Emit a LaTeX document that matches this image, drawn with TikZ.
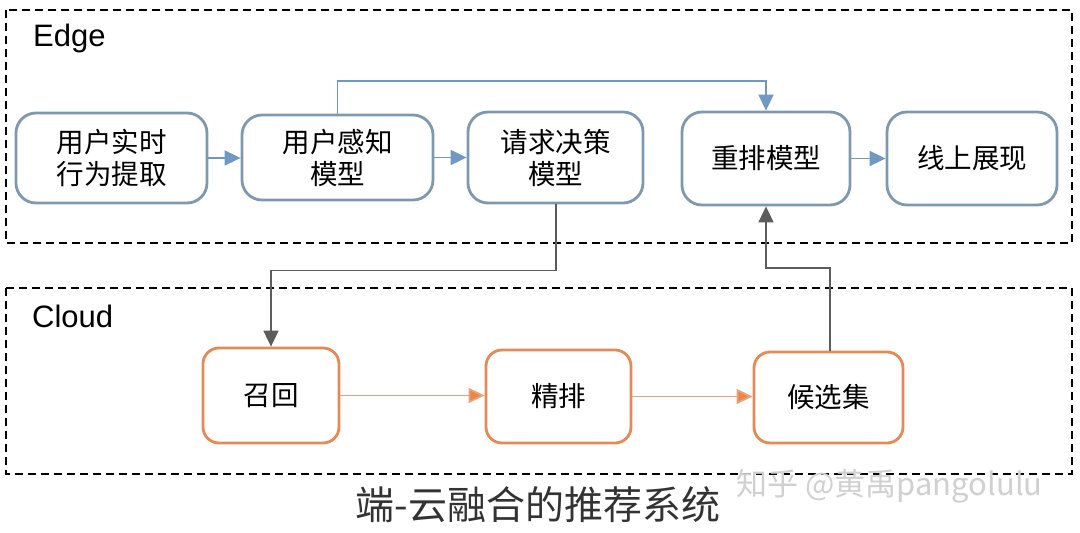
\documentclass[tikz,border=0pt]{standalone}
\usepackage{fontspec}
\setmainfont{Liberation Sans}
\newfontfamily\cjk{Noto Sans CJK SC}
\usetikzlibrary{arrows.meta}
\definecolor{edgeborder}{HTML}{7E99AE}
\definecolor{edgearrow}{HTML}{6F98C2}
\definecolor{cloudborder}{HTML}{E58A55}
\definecolor{cloudline}{HTML}{E8A37E}
\definecolor{cloudhead}{HTML}{EB8646}
\definecolor{linkgray}{HTML}{5C5C5C}
\definecolor{captiongray}{HTML}{333333}
\definecolor{wmgray}{HTML}{D0D0D0}
\tikzset{
  edgebox/.style={draw=edgeborder, line width=2.8pt, rounded corners=20pt, fill=white,
    align=center, font=\cjk\fontsize{27.5}{32}\selectfont, inner sep=0pt},
  cloudbox/.style={draw=cloudborder, line width=2.8pt, rounded corners=16pt, fill=white,
    align=center, font=\cjk\fontsize{27.5}{32}\selectfont, inner sep=0pt},
  region/.style={draw=black, line width=1.4pt, dash pattern=on 8pt off 5pt},
  bluearrow/.style={draw=edgearrow, line width=1.8pt, -{Triangle[length=16pt,width=15pt,fill=edgearrow]}},
  grayarrow/.style={draw=linkgray, line width=1.8pt, -{Triangle[length=16pt,width=15pt,fill=linkgray]}},
  orangearrow/.style={draw=cloudline, line width=1.8pt, -{Triangle[length=16pt,width=15pt,fill=cloudhead]}},
  regionlabel/.style={anchor=base west, font=\fontsize{31}{34}\selectfont, inner sep=0pt}
}
\begin{document}
\begin{tikzpicture}[x=1pt,y=-1pt]
\useasboundingbox[fill=white] (0,0) rectangle (1080,533);
% regions
\draw[region] (6,10) rectangle (1072,243);
\draw[region] (6,288) rectangle (1072,474);
\node[regionlabel] (edgelbl) at (33,46) {Edge};
\node[regionlabel] (cloudlbl) at (32,327) {Cloud};
% edge nodes
\node[edgebox, minimum width=191pt, minimum height=90pt] (n1) at (111.5,158) {用户实时\\行为提取};
\node[edgebox, minimum width=191pt, minimum height=85pt] (n2) at (337.5,157.5) {用户感知\\模型};
\node[edgebox, minimum width=175pt, minimum height=91pt] (n3) at (555.5,157.5) {请求决策\\模型};
\node[edgebox, minimum width=168pt, minimum height=93pt] (n4) at (766,158.5) {重排模型};
\node[edgebox, minimum width=170pt, minimum height=93pt] (n5) at (972,158.5) {线上展现};
% cloud nodes
\node[cloudbox, minimum width=136pt, minimum height=95pt] (c1) at (271,395.5) {召回};
\node[cloudbox, minimum width=145pt, minimum height=93pt] (c2) at (558.5,396.5) {精排};
\node[cloudbox, minimum width=149pt, minimum height=91pt] (c3) at (828.5,397.5) {候选集};
% edge connectors
\draw[bluearrow] (n1.east) -- (n1.east -| n2.west);
\draw[bluearrow] (n2.east) -- (n2.east -| n3.west);
\draw[bluearrow] (n4.east) -- (n4.east -| n5.west);
\draw[bluearrow] (n2.north) -- ++(0,-33) -| (n4.north);
% cross connectors
\draw[grayarrow] ([xshift=0.5pt]n3.south) -- ++(0,66) -| (c1.north);
\draw[grayarrow] ([xshift=1.5pt]c3.north) -- ++(0,-83) -| (n4.south);
% cloud connectors
\draw[orangearrow] (c1.east) -- (c1.east -| c2.west);
\draw[orangearrow] (c2.east) -- (c2.east -| c3.west);
% caption and watermark
\node[font=\cjk\fontsize{39}{42}\selectfont, text=captiongray, inner sep=0pt] (caption) at (538,505) {端-云融合的推荐系统};
\node[font=\cjk\fontsize{31}{33}\selectfont, text=wmgray, anchor=west, inner sep=0pt] (wm) at (736,486) {知乎 @黄禹pangolulu};
\end{tikzpicture}
\end{document}
